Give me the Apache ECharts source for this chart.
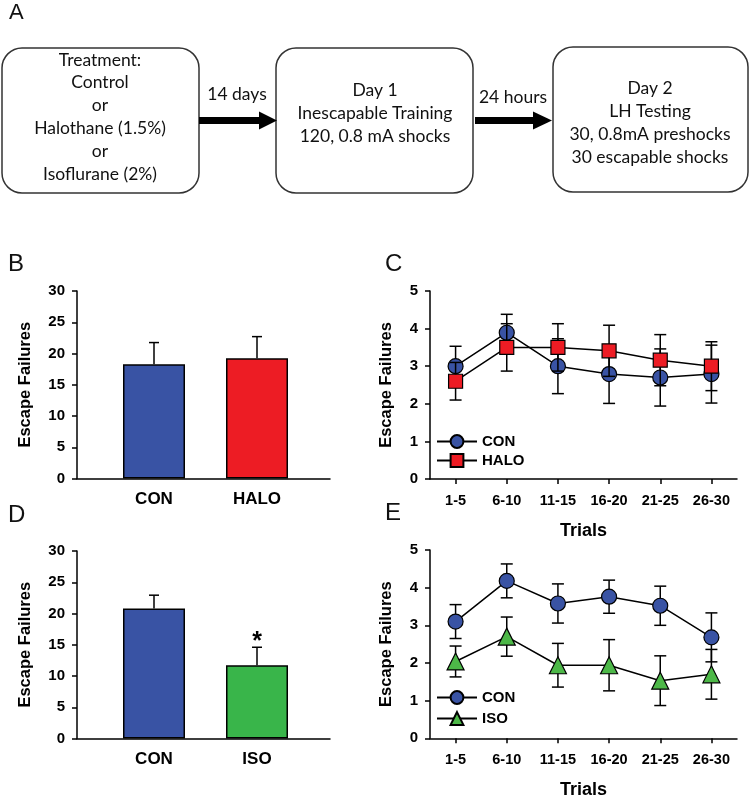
<!DOCTYPE html>
<html><head><meta charset="utf-8">
<script src="https://cdn.jsdelivr.net/npm/echarts@6/dist/echarts.min.js"></script>
<style>html,body{margin:0;padding:0;background:#fff}#c{width:750px;height:800px}</style>
</head><body><div id="c"></div>
<script>
// ---- data ----
const barCatsB = ['CON', 'HALO'];
const barMeanB = [18.3, 19.25];
const barErrB = [3.45, 3.45];
const barColorsB = ['#3953A4', '#ED1C24'];

const barCatsD = ['CON', 'ISO'];
const barMeanD = [20.8, 11.73];
const barErrD = [2.13, 2.87];
const barColorsD = ['#3953A4', '#39B54A'];
const sigD = ['', '*'];

const barTicks = [0, 5, 10, 15, 20, 25, 30];
const lineTicks = [0, 1, 2, 3, 4, 5];

const trials = ['1-5', '6-10', '11-15', '16-20', '21-25', '26-30'];
const conC = [3.0, 3.89, 3.0, 2.79, 2.70, 2.79];
const conCErr = [0.53, 0.49, 0.73, 0.78, 0.76, 0.77];
const haloC = [2.6, 3.5, 3.5, 3.41, 3.16, 3.0];
const haloCErr = [0.5, 0.63, 0.63, 0.68, 0.68, 0.65];
const conE = [3.10, 4.18, 3.58, 3.76, 3.52, 2.68];
const conEErr = [0.45, 0.45, 0.52, 0.44, 0.52, 0.65];
const isoE = [2.04, 2.70, 1.94, 1.94, 1.53, 1.70];
const isoEErr = [0.41, 0.52, 0.58, 0.68, 0.66, 0.66];

const box1Lines = ['Treatment:', 'Control', 'or', 'Halothane (1.5%)', 'or', 'Isoflurane (2%)'];
const box2Lines = ['Day 1', 'Inescapable Training', '120, 0.8 mA shocks'];
const box3Lines = ['Day 2', 'LH Testing', '30, 0.8mA preshocks', '30 escapable shocks'];
const arrowLabels = ['14 days', '24 hours'];
const panelLabels = ['A', 'B', 'C', 'D', 'E'];

// ---- helpers ----
const AX = '#000';
const FONT = 'Liberation Sans, Arial, sans-serif';
const BOXFONT = 'Lato, sans-serif';

function valueY(gridIndex, ticks, show, name, nameGap) {
  return {
    type: 'value', gridIndex: gridIndex, min: ticks[0], max: ticks[ticks.length - 1],
    interval: ticks[1] - ticks[0], show: show,
    axisLine: {show: true, lineStyle: {color: AX, width: 1.5}},
    axisTick: {show: true, inside: false, length: 5, lineStyle: {color: AX, width: 1.5}},
    axisLabel: {color: '#000', fontFamily: FONT, fontWeight: 'bold', fontSize: 15, margin: 12},
    splitLine: {show: false},
    name: name, nameLocation: 'middle', nameGap: nameGap, nameMoveOverlap: false,
    nameTextStyle: {color: '#000', fontFamily: FONT, fontWeight: 'bold', fontSize: 16.5}
  };
}

function errSeries(xIdx, yIdx, means, errs, both, capHalf, z, sig) {
  return {
    type: 'custom', xAxisIndex: xIdx, yAxisIndex: yIdx, z: z, silent: true,
    data: means.map(function (m, i) { return [i, m, errs[i]]; }),
    renderItem: function (params, api) {
      const i = api.value(0), m = api.value(1), e = api.value(2);
      const top = api.coord([i, m + e]);
      const bot = api.coord([i, both ? m - e : m]);
      const st = {stroke: '#000', lineWidth: 1.5, fill: null};
      const ch = [
        {type: 'line', shape: {x1: top[0], y1: top[1], x2: bot[0], y2: bot[1]}, style: st},
        {type: 'line', shape: {x1: top[0] - capHalf, y1: top[1], x2: top[0] + capHalf, y2: top[1]}, style: st}
      ];
      if (both) ch.push({type: 'line', shape: {x1: bot[0] - capHalf, y1: bot[1], x2: bot[0] + capHalf, y2: bot[1]}, style: st});
      if (sig && sig[i]) ch.push({type: 'text', x: top[0], y: top[1] - 5,
        style: {text: sig[i], fill: '#000', font: 'bold 25px ' + FONT, textAlign: 'center', textVerticalAlign: 'middle'}});
      return {type: 'group', children: ch};
    }
  };
}

function lineSeries(name, xIdx, yIdx, data, symbol, size, color, z) {
  return {
    type: 'line', name: name, xAxisIndex: xIdx, yAxisIndex: yIdx, z: z, data: data,
    symbol: symbol, symbolSize: size, showAllSymbol: true,
    lineStyle: {color: '#000', width: 1.5},
    itemStyle: {color: color, borderColor: '#000', borderWidth: 1.2},
    emphasis: {disabled: true}
  };
}

// ---- flowchart graphics ----
const graphics = [];
const boxes = [
  {x: 2, y: 48, w: 197, h: 145, cx: 100, lines: box1Lines, y0: 60, dy: 22.8},
  {x: 276, y: 48, w: 197, h: 145, cx: 375, lines: box2Lines, y0: 90, dy: 23},
  {x: 553, y: 47, w: 195, h: 145, cx: 650, lines: box3Lines, y0: 88, dy: 23}
];
boxes.forEach(function (b) {
  graphics.push({type: 'rect', shape: {x: b.x, y: b.y, width: b.w, height: b.h, r: 20},
    style: {fill: '#fff', stroke: '#333', lineWidth: 1.5}});
  b.lines.forEach(function (t, k) {
    graphics.push({type: 'text', x: b.cx, y: b.y0 + k * b.dy,
      style: {text: t, fill: '#111', font: '17.5px ' + BOXFONT, textAlign: 'center', textVerticalAlign: 'middle'}});
  });
});
const arrows = [{x1: 199, x2: 259, tip: 277, y: 120.5, lx: 237, ly: 94},
                {x1: 475, x2: 533, tip: 552, y: 120.5, lx: 513, ly: 97}];
arrows.forEach(function (a, k) {
  graphics.push({type: 'rect', shape: {x: a.x1, y: a.y - 3.5, width: a.x2 - a.x1 + 1, height: 7}, style: {fill: '#000'}});
  graphics.push({type: 'polygon', shape: {points: [[a.x2, a.y - 9], [a.tip, a.y], [a.x2, a.y + 9]]}, style: {fill: '#000'}});
  graphics.push({type: 'text', x: a.lx, y: a.ly,
    style: {text: arrowLabels[k], fill: '#111', font: '17.5px ' + BOXFONT, textAlign: 'center', textVerticalAlign: 'middle'}});
});
const labelPos = [[9, 13, 22], [8, 264, 24], [385, 264, 24], [8, 515, 24], [385, 513, 24]];
panelLabels.forEach(function (t, k) {
  graphics.push({type: 'text', x: labelPos[k][0], y: labelPos[k][1],
    style: {text: t, fill: '#111', font: labelPos[k][2] + 'px ' + FONT, textAlign: 'left', textVerticalAlign: 'middle'}});
});

// ---- grids ----
const grids = [
  {left: 77, top: 291, width: 253, height: 187.5},    // 0 B outer
  {left: 102.5, top: 291, width: 206, height: 187.5}, // 1 B inner
  {left: 77, top: 551, width: 253, height: 187.5},    // 2 D outer
  {left: 102.5, top: 551, width: 206, height: 187.5}, // 3 D inner
  {left: 430, top: 291, width: 307, height: 188},     // 4 C
  {left: 430, top: 550, width: 307, height: 188.3}    // 5 E
].map(function (g) { g.outerBoundsMode = 'none'; g.containLabel = false; return g; });

function outerX(gi) {
  return {type: 'value', gridIndex: gi, min: 0, max: 1,
    axisLine: {show: true, onZero: false, lineStyle: {color: AX, width: 1.5}},
    axisTick: {show: false}, axisLabel: {show: false}, splitLine: {show: false}};
}
function innerX(gi, cats) {
  return {type: 'category', gridIndex: gi, data: cats,
    axisLine: {show: false}, axisTick: {show: false},
    axisLabel: {color: '#000', fontFamily: FONT, fontWeight: 'bold', fontSize: 17, margin: 12}};
}
function trialX(gi) {
  return {type: 'category', gridIndex: gi, data: trials, boundaryGap: true,
    axisLine: {show: true, onZero: false, lineStyle: {color: AX, width: 1.5}},
    axisTick: {show: true, alignWithLabel: true, inside: false, length: 5, lineStyle: {color: AX, width: 1.5}},
    axisLabel: {color: '#000', fontFamily: FONT, fontWeight: 'bold', fontSize: 14.5, margin: 14},
    name: 'Trials', nameLocation: 'middle', nameGap: 43, nameMoveOverlap: false,
    nameTextStyle: {color: '#000', fontFamily: FONT, fontWeight: 'bold', fontSize: 18}};
}

const xAxes = [outerX(0), innerX(1, barCatsB), outerX(2), innerX(3, barCatsD), trialX(4), trialX(5)];
const yAxes = [
  valueY(0, barTicks, true, 'Escape Failures', 43),
  valueY(1, barTicks, false, '', 0),
  valueY(2, barTicks, true, 'Escape Failures', 43),
  valueY(3, barTicks, false, '', 0),
  valueY(4, lineTicks, true, 'Escape Failures', 35),
  valueY(5, lineTicks, true, 'Escape Failures', 35)
];

function barSeries(idx, means, colors) {
  return {type: 'bar', xAxisIndex: idx, yAxisIndex: idx, barWidth: 62, z: 2,
    data: means.map(function (v, i) { return {value: v, itemStyle: {color: colors[i]}}; }),
    itemStyle: {borderColor: '#000', borderWidth: 1.5}, emphasis: {disabled: true}};
}

const series = [
  barSeries(1, barMeanB, barColorsB),
  errSeries(1, 1, barMeanB, barErrB, false, 5, 1),
  barSeries(3, barMeanD, barColorsD),
  errSeries(3, 3, barMeanD, barErrD, false, 5, 1, sigD),
  errSeries(4, 4, conC, conCErr, true, 6, 3),
  lineSeries('CON', 4, 4, conC, 'circle', 15, '#3953A4', 4),
  errSeries(4, 4, haloC, haloCErr, true, 6, 5),
  lineSeries('HALO', 4, 4, haloC, 'rect', 14, '#ED1C24', 6),
  errSeries(5, 5, conE, conEErr, true, 6, 3),
  lineSeries('CON', 5, 5, conE, 'circle', 15, '#3953A4', 4),
  errSeries(5, 5, isoE, isoEErr, true, 6, 5),
  lineSeries('ISO', 5, 5, isoE, 'triangle', 17, '#4DB848', 6)
];

const legendBase = {orient: 'vertical', left: 436, itemWidth: 40, itemHeight: 16, itemGap: 4, padding: 0,
  selectedMode: false, textStyle: {color: '#000', fontFamily: FONT, fontWeight: 'bold', fontSize: 15}};

const chart = echarts.init(document.getElementById('c'), null, {renderer: 'canvas'});
chart.setOption({
  animation: false,
  backgroundColor: '#fff',
  grid: grids,
  xAxis: xAxes,
  yAxis: yAxes,
  series: series,
  legend: [
    Object.assign({}, legendBase, {top: 434, data: ['CON', 'HALO']}),
    Object.assign({}, legendBase, {top: 690, itemGap: 6, data: ['CON', 'ISO']})
  ],
  graphic: graphics
});
</script></body></html>
